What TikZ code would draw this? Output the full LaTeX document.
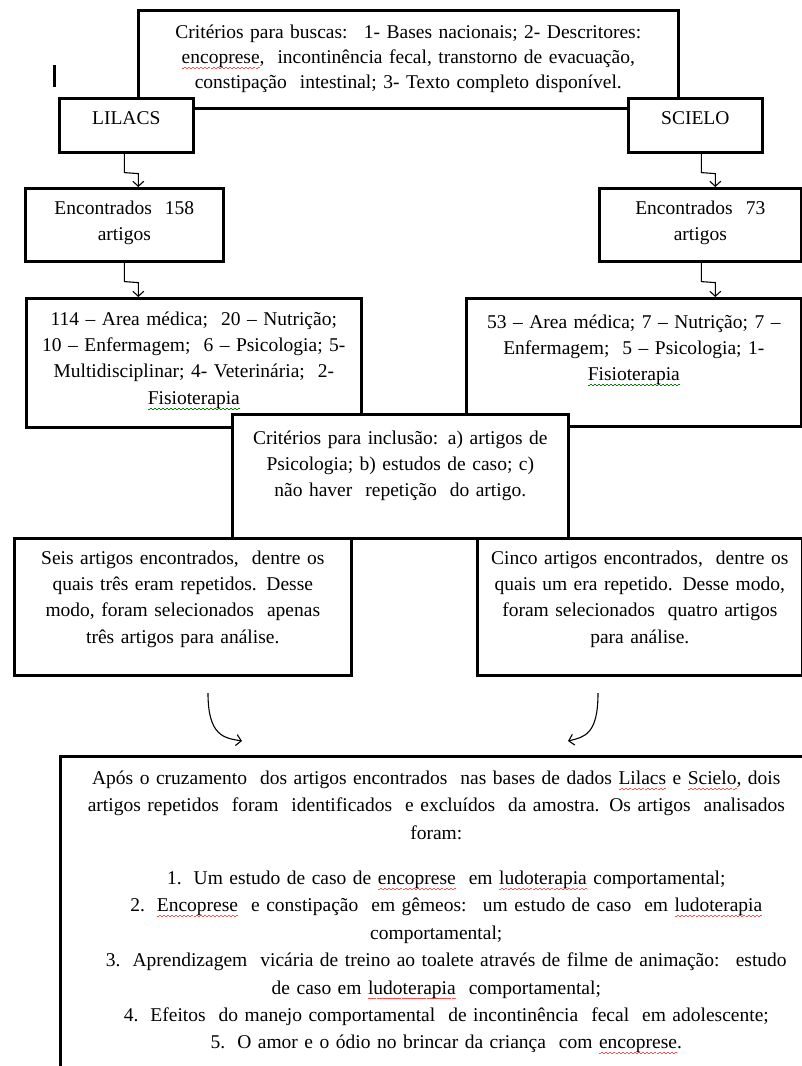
\documentclass[tikz,border=0pt]{standalone}
\usepackage{fontspec}
\setmainfont{Liberation Serif}
\usetikzlibrary{calc,arrows.meta}

% wavy spelling marks under a word
\newcommand{\spellwave}[2]{\leavevmode\setbox0\hbox{#2}\rlap{\lower4.5pt\hbox to\wd0{\color{#1}\xleaders\hbox to 4pt{\vrule width 2pt height 0.2pt depth 0.7pt\vrule width 2pt height 1.1pt depth -0.2pt}\hfil}}\box0\relax}
\newcommand{\redwave}{\spellwave{red!70}}
\newcommand{\greenwave}{\spellwave{green!50!black}}

\begin{document}
\begin{tikzpicture}[
    x=1pt, y=-1pt,
    >={Straight Barb[length=5pt,width=11pt]},
    box/.style={draw,line width=2.6pt,fill=white,inner sep=0pt,align=center,anchor=north west,
        font=\fontsize{19.5}{26.3}\selectfont},
    zig/.style={->,line width=1.1pt},
    zigzag/.style={to path={-- ++(0,19) -- ++(14,1) coordinate (k) -- (k |- \tikztotarget)}},
    bend link/.style={->,line width=1.1pt}
    ]
    \useasboundingbox (0,0) rectangle (801,1066);
    % cursor mark
    \draw[line width=3pt] (54,65) -- (54,87);
    % search criteria
    \node[box,text width=540pt,text height=28pt,text depth=70pt,font=\fontsize{19.5}{25}\selectfont] (crit) at (137,9)
        {Critérios para buscas: \ 1- Bases nacionais; 2- Descritores:\\
         \redwave{encoprese}, \ incontinência fecal, transtorno de evacuação,\\
         constipação \ intestinal; 3- Texto completo disponível.};
    % databases
    \node[box,text width=134pt,text height=26pt,text depth=28pt] (lilacs) at (58,97) {LILACS};
    \node[box,text width=134pt,text height=26pt,text depth=28pt] (scielo) at (627,97) {SCIELO};
    % found
    \node[box,text width=198pt,text height=26pt,text depth=47pt] (enc158) at (24,187) {Encontrados \ 158\\ artigos};
    \node[box,text width=202pt,text height=26pt,text depth=47pt] (enc73) at (598,187) {Encontrados \ 73\\ artigos};
    % areas
    \node[box,text width=335pt,text height=27pt,text depth=102pt] (area114) at (25,297)
        {114 – Area médica; \ 20 – Nutrição;\\
         10 – Enfermagem; \ 6 – Psicologia; 5-\\
         Multidisciplinar; 4- Veterinária; \ 2-\\
         \greenwave{Fisioterapia}};
    \node[box,text width=335pt,text height=30pt,text depth=98pt] (area53) at (465,297)
        {53 – Area médica; 7 – Nutrição; 7 –\\
         Enfermagem; \ 5 – Psicologia; 1-\\
         \greenwave{Fisioterapia}};
    % inclusion
    \node[box,text width=336pt,text height=30pt,text depth=94pt] (incl) at (231,413)
        {Critérios para inclusão: a) artigos de\\
         Psicologia; b) estudos de caso; c)\\
         não haver \ repetição \ do artigo.};
    % selected
    \node[box,text width=337pt,text height=26pt,text depth=111pt] (seis) at (13,537)
        {Seis artigos encontrados, \ dentre os\\
         quais três eram repetidos. Desse\\
         modo, foram selecionados \ apenas\\
         três artigos para análise.};
    \node[box,text width=325pt,text height=26pt,text depth=111pt] (cinco) at (476,537)
        {Cinco artigos encontrados, \ dentre os\\
         quais um era repetido. Desse modo,\\
         foram selecionados \ quatro artigos\\
         para análise.};
    % result
    \node[box,text width=752pt,text height=28pt,text depth=302pt,font=\fontsize{19.5}{27.4}\selectfont] (final) at (59,755)
        {Após o cruzamento \ dos artigos encontrados \ nas bases de dados \redwave{Lilacs} e \redwave{Scielo}, dois\\
         artigos repetidos \ foram \ identificados \ e excluídos \ da amostra. Os artigos \ analisados\\
         foram:\\[18pt]
         \hspace*{20pt}1.\hspace{12pt}Um estudo de caso de \redwave{encoprese} \ em \redwave{ludoterapia} comportamental;\\
         \hspace*{20pt}2.\hspace{12pt}\redwave{Encoprese} \ e constipação \ em gêmeos: \ um estudo de caso \ em \redwave{ludoterapia}\\
         comportamental;\\
         \hspace*{20pt}3.\hspace{12pt}Aprendizagem \ vicária de treino ao toalete através de filme de animação: \ estudo\\
         de caso em \redwave{ludoterapia} \ comportamental;\\
         \hspace*{20pt}4.\hspace{12pt}Efeitos \ do manejo comportamental \ de incontinência \ fecal \ em adolescente;\\
         \hspace*{20pt}5.\hspace{12pt}O amor e o ódio no brincar da criança \ com \redwave{encoprese}.};
    % arrows
    \draw[zig] ($(lilacs.south)+(-2,0)$) to[zigzag] (enc158.north);
    \draw[zig] ($(enc158.south)+(0,0)$) to[zigzag] (area114.north);
    \draw[zig] ($(scielo.south)+(6,0)$) to[zigzag] (enc73.north);
    \draw[zig] ($(enc73.south)+(1,0)$) to[zigzag] (area53.north);
    \coordinate (seis out) at (208,693);
    \coordinate (final in) at (242,741);
    \coordinate (cinco out) at (598,693);
    \coordinate (final in2) at (568,741);
    \draw[bend link] (seis out) .. controls (208,736) and (224,738) .. (final in);
    \draw[bend link] (cinco out) .. controls (598,734) and (585,737) .. (final in2);
\end{tikzpicture}
\end{document}
